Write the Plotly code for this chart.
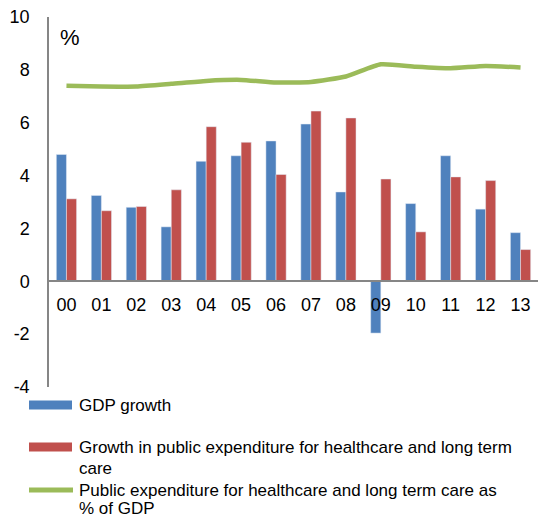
import plotly.graph_objects as go

# Years (two-digit labels) and series values
years = ['00', '01', '02', '03', '04', '05', '06', '07', '08', '09', '10', '11', '12', '13']
gdp_growth = [4.8, 3.25, 2.8, 2.06, 4.54, 4.75, 5.31, 5.95, 3.38, -1.96, 2.94, 4.75, 2.73, 1.84]
health_growth = [3.12, 2.67, 2.83, 3.46, 5.85, 5.26, 4.04, 6.44, 6.18, 3.87, 1.87, 3.95, 3.81, 1.2]
health_share = [7.4, 7.37, 7.37, 7.47, 7.58, 7.62, 7.52, 7.54, 7.75, 8.21, 8.12, 8.06, 8.15, 8.09]

# y tick labels (plain hyphen for negatives, as in the original)
y_ticks = [-4, -2, 0, 2, 4, 6, 8, 10]
y_ticklabels = ['-4', '-2', '0', '2', '4', '6', '8', '10']

names = ['GDP growth',
         'Growth in public expenditure for healthcare and long term<br>care',
         'Public expenditure for healthcare and long term care as<br>% of GDP']
colors = ['#4F81BD', '#C0504D', '#9BBB59']

FONT = 'Arial, Liberation Sans, sans-serif'
W, H = 541, 519
L, R, T, B = 49, 3, 17, 132
y_min, y_max = -4, 10


def px(x):
    return (x - L) / (W - L - R)


def py(y):
    return (H - B - y) / (H - B - T)


fig = go.Figure()
fig.add_trace(go.Bar(x=years, y=gdp_growth, name=names[0], marker_color=colors[0]))
fig.add_trace(go.Bar(x=years, y=health_growth, name=names[1], marker_color=colors[1]))
fig.add_trace(go.Scatter(x=years, y=health_share, name=names[2], mode='lines',
                         line=dict(color=colors[2], width=4.5, shape='spline', smoothing=0.5)))

# hand-made legend below the plot (wide keys like the original)
shapes = []
annotations = []
key_y = [405, 447, 490]
for i, name in enumerate(names):
    yc = key_y[i]
    if i < 2:
        shapes.append(dict(type='rect', xref='paper', yref='paper',
                           x0=px(29), x1=px(72), y0=py(yc - 4.5), y1=py(yc + 4.5),
                           fillcolor=colors[i], line_width=0))
    else:
        shapes.append(dict(type='line', xref='paper', yref='paper',
                           x0=px(29), x1=px(73), y0=py(yc), y1=py(yc),
                           line=dict(color=colors[i], width=5)))
    gap = 21 if i == 1 else 18
    for j, line in enumerate(name.split('<br>')):
        annotations.append(dict(text=line, xref='paper', yref='paper',
                                x=px(77), y=py(yc + j * gap), xanchor='left', yanchor='middle',
                                showarrow=False, font=dict(size=17, color='#000000', family=FONT)))

annotations.append(dict(text='%', xref='paper', yref='paper', x=px(58), y=py(37),
                        xanchor='left', yanchor='middle', showarrow=False,
                        font=dict(size=22, color='#000000', family=FONT)))

fig.update_layout(
    width=W, height=H,
    margin=dict(l=L, r=R, t=T, b=B),
    paper_bgcolor='white', plot_bgcolor='white',
    font=dict(family=FONT, size=18, color='#000000'),
    barmode='group', bargap=0.42, bargroupgap=0,
    showlegend=False,
    shapes=shapes,
    annotations=annotations,
    xaxis=dict(anchor='free', position=(0 - y_min) / (y_max - y_min), automargin=False,
               showline=True, linecolor='#868686', linewidth=1.5,
               ticks='', showgrid=False, zeroline=False, ticklabelstandoff=7,
               tickfont=dict(size=18)),
    yaxis=dict(range=[y_min, y_max], tickvals=y_ticks, ticktext=y_ticklabels, automargin=False,
               showline=True, linecolor='#868686', linewidth=1.5,
               ticks='', showgrid=False, zeroline=False, ticklabelstandoff=14,
               tickfont=dict(size=18)),
)

# drop the page's default body margin so the figure fills the window exactly
fig.write_html("out.html", config={'displayModeBar': False},
               post_script="document.body.style.margin='0px';")
